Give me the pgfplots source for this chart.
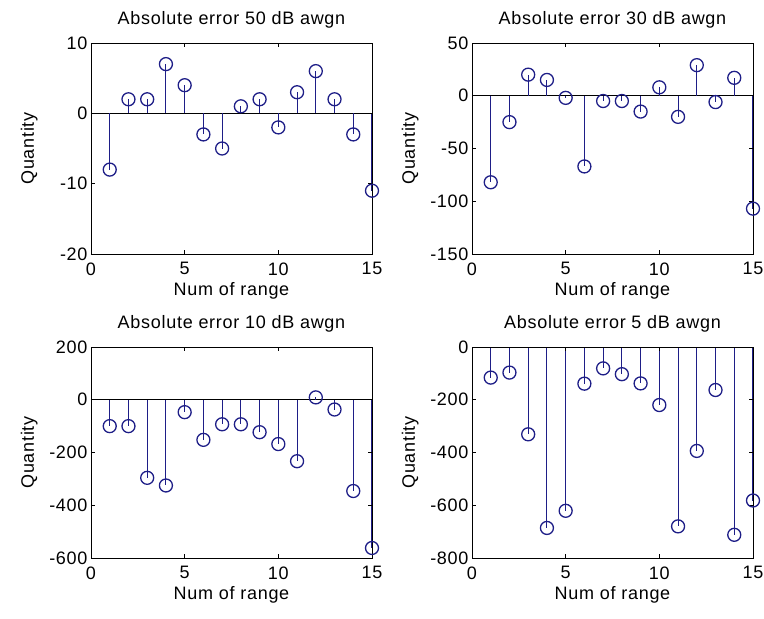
\documentclass[border=0pt]{standalone}
\usepackage{fontspec}
\setmainfont{Liberation Sans}[LetterSpace=4]
\usepackage{pgfplots}
\pgfplotsset{compat=1.18}
\definecolor{stemblue}{RGB}{30,30,135}

\pgfplotsset{
  errplot/.style={
    scale only axis, width=281pt, height=211pt,
    anchor=north west, clip=false, axis on top,
    xmin=0, xmax=15, xtick={0,5,10,15},
    tick align=inside, major tick length=4pt,
    tick style={black, line width=0.7pt},
    axis line style={black, line width=0.8pt},
    font=\fontsize{18}{21}\selectfont,
    /pgf/number format/assume math mode=true,
    xlabel={Num of range}, ylabel={Quantity},
    xlabel style={at={(axis description cs:0.5,0)}, anchor=center, yshift=-37pt},
    ylabel style={at={(axis description cs:-0.22,0.5)}, anchor=center},
    title style={at={(axis description cs:0.5,1)}, anchor=center, yshift=17pt},
    xticklabel style={yshift=-5pt},
  },
  stem/.style={ycomb, draw=stemblue, line width=1.1pt,
    mark=o, mark size=6.5pt, mark options={draw=stemblue, line width=1.3pt}},
  zero/.style={black, line width=0.9pt, no marks},
}

\begin{document}
\begin{tikzpicture}
\path[use as bounding box] (0,0) rectangle (764pt,-619pt);

% 50 dB
\begin{axis}[errplot, at={(91pt,-43pt)},
  title={Absolute error 50 dB awgn},
  ymin=-20, ymax=10, ytick={-20,-10,0,10}]
\addplot[zero] coordinates {(0,0) (15,0)};
\addplot[stem] coordinates {
(1,-8) (2,2) (3,2) (4,7) (5,4) (6,-3) (7,-5) (8,1)
(9,2) (10,-2) (11,3) (12,6) (13,2) (14,-3) (15,-11)};
\end{axis}

% 30 dB
\begin{axis}[errplot, at={(472pt,-43pt)},
  title={Absolute error 30 dB awgn},
  ymin=-150, ymax=50, ytick={-150,-100,-50,0,50}]
\addplot[zero] coordinates {(0,0) (15,0)};
\addplot[stem] coordinates {
(1,-82) (2,-25) (3,20) (4,15) (5,-2) (6,-67) (7,-5) (8,-5)
(9,-15) (10,8) (11,-20) (12,29) (13,-6) (14,17) (15,-107)};
\end{axis}

% 10 dB
\begin{axis}[errplot, at={(91pt,-347pt)},
  title={Absolute error 10 dB awgn},
  ymin=-600, ymax=200, ytick={-600,-400,-200,0,200}]
\addplot[zero] coordinates {(0,0) (15,0)};
\addplot[stem] coordinates {
(1,-100) (2,-100) (3,-296) (4,-325) (5,-47) (6,-152) (7,-93) (8,-93)
(9,-123) (10,-168) (11,-233) (12,9) (13,-37) (14,-346) (15,-562)};
\end{axis}

% 5 dB
\begin{axis}[errplot, at={(472pt,-347pt)},
  title={Absolute error 5 dB awgn},
  ymin=-800, ymax=0, ytick={-800,-600,-400,-200,0}]
\addplot[zero] coordinates {(0,0) (15,0)};
\addplot[stem] coordinates {
(1,-116) (2,-97) (3,-331) (4,-686) (5,-621) (6,-139) (7,-81) (8,-103)
(9,-138) (10,-220) (11,-680) (12,-394) (13,-163) (14,-712) (15,-582)};
\end{axis}
\end{tikzpicture}
\end{document}
